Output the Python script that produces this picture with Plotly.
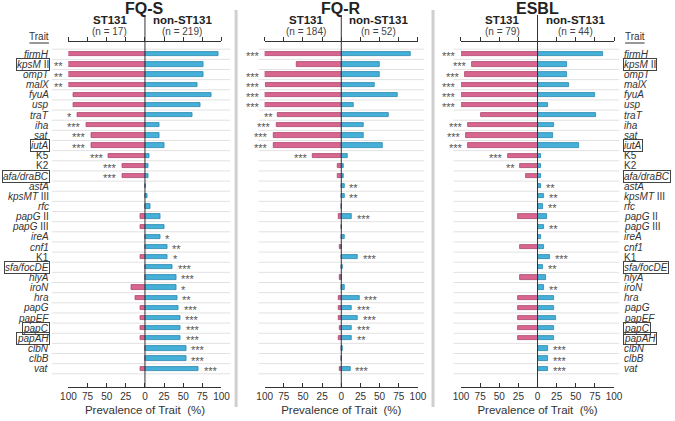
import plotly.graph_objects as go

# trait rows (top to bottom)
traits = [
    "<i>firmH</i>", "<i>kpsM</i> II", "<i>ompT</i>", "<i>malX</i>", "<i>fyuA</i>",
    "<i>usp</i>", "<i>traT</i>", "<i>iha</i>", "<i>sat</i>", "<i>iutA</i>",
    "K5", "K2", "<i>afa/draBC</i>", "<i>astA</i>", "<i>kpsMT</i> III", "<i>rfc</i>",
    "<i>papG</i> II", "<i>papG</i> III", "<i>ireA</i>", "<i>cnf1</i>", "K1",
    "<i>sfa/focDE</i>", "<i>hlyA</i>", "<i>iroN</i>", "<i>hra</i>", "<i>papG</i>",
    "<i>papEF</i>", "<i>papC</i>", "<i>papAH</i>", "<i>clbN</i>", "<i>clbB</i>",
    "<i>vat</i>",
]
boxed = ["<i>kpsM</i> II", "<i>iutA</i>", "<i>afa/draBC</i>", "<i>sfa/focDE</i>",
         "<i>papC</i>", "<i>papAH</i>"]

groups = ["FQ-S", "FQ-R", "ESBL"]
n_st131 = [17, 184, 79]
n_non = [219, 52, 44]

fqs_st131 = [100, 100, 100, 100, 94.1, 94.1, 88.2, 76.5, 70.6, 70.6, 47.1, 29.4, 29.4,
             0, 0, 0, 5.9, 5.9, 0, 0, 5.9, 0, 0, 17.6, 11.8, 5.9, 5.9, 5.9, 5.9, 0, 0, 5.9]
fqs_non = [96, 76, 76, 68, 87, 72, 62, 19, 19, 25, 6, 4, 4, 0.5, 3.5, 7.5, 20, 26, 20,
           29, 30, 36, 41, 41, 42, 44, 46, 47, 47, 54, 54, 70]
fqs_sig = ["", "**", "**", "**", "", "", "*", "***", "***", "***", "***", "***", "***",
           "", "", "", "", "", "*", "**", "*", "***", "***", "*", "**", "***", "***",
           "***", "***", "***", "***", "***"]

fqr_st131 = [100, 57.7, 100, 99, 100, 100, 82.5, 84.6, 88.5, 88.5, 37.2, 5, 4.3, 0, 0, 0,
             3, 0, 0, 1.5, 0, 0, 2.5, 0, 3.8, 3, 3, 2.5, 3.8, 0, 0, 2.5]
fqr_non = [90, 50, 50, 43, 73.5, 15.5, 62, 29, 29, 54, 8, 2.5, 2.5, 4, 4, 0, 14, 0, 4, 0,
           22, 2, 0, 4, 23.5, 14, 22, 14, 14, 2, 1, 12]
fqr_sig = ["***", "", "***", "***", "***", "***", "**", "***", "***", "***", "***", "",
           "", "**", "**", "", "***", "", "", "", "***", "", "", "", "***", "***", "***",
           "***", "**", "", "", "***"]

esbl_st131 = [100, 86, 95, 100, 100, 100, 74, 91, 93, 91, 38, 22.5, 15, 0, 0, 0, 25, 0, 0,
              22.5, 0, 0, 22.5, 0, 25, 25, 25, 25, 25, 0, 0, 0]
esbl_non = [86, 38.5, 38.5, 41, 75, 13.5, 77, 22, 20, 54, 4.5, 4.5, 4.5, 4.5, 9, 7, 13, 9,
            4.5, 9, 16, 7, 11.5, 9, 22, 22, 24.5, 22, 22, 13.5, 13.5, 13.5]
esbl_sig = ["***", "***", "***", "***", "***", "***", "", "***", "***", "***", "***", "**",
            "", "**", "**", "**", "", "**", "", "", "***", "**", "", "**", "", "", "", "",
            "", "***", "***", "***"]

tick_vals = [-100, -75, -50, -25, 0, 25, 50, 75, 100]
tick_text = ["100", "75", "50", "25", "0", "25", "50", "75", "100"]

PINK = "#d9668f"
PINK_LINE = "#a9456f"
BLUE = "#45b0d8"
BLUE_LINE = "#2a86ab"
FONT = "Liberation Sans, Arial, sans-serif"

W, H = 675, 421
TOP, BOTTOM = 42, 387
domains = [(62 / W, 219 / W), (263.3 / W, 420.5 / W), (464.7 / W, 621.7 / W)]
grid_spans = [(45, 228), (257, 427), (457, 627)]


def py(p):
    """pixel row -> paper y"""
    return (BOTTOM - p) / (BOTTOM - TOP)


def text_ann(x, y, text, size, color="#333", xref="paper", yref="paper", **kw):
    d = dict(x=x, y=y, xref=xref, yref=yref, text=text, showarrow=False,
             xanchor="center", yanchor="middle",
             font=dict(size=size, color=color, family=FONT))
    d.update(kw)
    return d


rows = list(range(len(traits)))
data = [(fqs_st131, fqs_non, fqs_sig), (fqr_st131, fqr_non, fqr_sig),
        (esbl_st131, esbl_non, esbl_sig)]

fig = go.Figure()
annotations = []
shapes = []

for k, (st, non, sig) in enumerate(data):
    xa = "x" if k == 0 else f"x{k + 1}"
    fig.add_trace(go.Bar(
        y=rows, x=[-v for v in st], orientation="h", xaxis=xa, yaxis="y",
        width=0.42, marker=dict(color=PINK, line=dict(color=PINK_LINE, width=0.8)),
        showlegend=False, hoverinfo="skip",
    ))
    fig.add_trace(go.Bar(
        y=rows, x=non, orientation="h", xaxis=xa, yaxis="y",
        width=0.42, marker=dict(color=BLUE, line=dict(color=BLUE_LINE, width=0.8)),
        showlegend=False, hoverinfo="skip",
    ))
    # invisible helper so the top tick axis gets drawn
    fig.add_trace(go.Scatter(
        x=tick_vals, y=[0] * len(tick_vals), xaxis=f"x{k + 4}", yaxis="y",
        mode="markers", marker=dict(opacity=0), showlegend=False, hoverinfo="skip",
    ))

    # significance stars on the side of the larger group
    for i, s in enumerate(sig):
        if not s:
            continue
        if st[i] >= non[i]:
            annotations.append(text_ann(-st[i], i, s, 11, "#555", xref=xa, yref="y",
                                        xanchor="right", xshift=-3, yshift=-2))
        else:
            annotations.append(text_ann(non[i], i, s, 11, "#555", xref=xa, yref="y",
                                        xanchor="left", xshift=3, yshift=-2))

    # headers
    annotations.append(text_ann(0, py(8), f"<b>{groups[k]}</b>", 16, "#222", xref=xa))
    annotations.append(text_ann(-46, py(20), "<b>ST131</b>", 11.5, "#222", xref=xa))
    annotations.append(text_ann(49, py(20), "<b>non-ST131</b>", 11.5, "#222", xref=xa))
    annotations.append(text_ann(-46, py(31.5), f"(n = {n_st131[k]})", 10, "#444", xref=xa))
    annotations.append(text_ann(49, py(31.5), f"(n = {n_non[k]})", 10, "#444", xref=xa))

    # row separators
    x0, x1 = grid_spans[k]
    for i in range(len(traits) + 1):
        shapes.append(dict(type="line", xref="paper", yref="y", x0=x0 / W, x1=x1 / W,
                           y0=i - 0.5, y1=i - 0.5, layer="below",
                           line=dict(color="#e2e2e2", width=1)))
    # centre line
    shapes.append(dict(type="line", xref=xa, yref="paper", x0=0, x1=0,
                       y0=0, y1=py(15), line=dict(color="#333", width=1)))

# trait labels (left of FQ-S and right of ESBL)
for i, t in enumerate(traits):
    box = t in boxed
    border = "#444" if box else "rgba(0,0,0,0)"
    annotations.append(text_ann(43 / W, i, t, 10, yref="y", xanchor="right",
                                bordercolor=border, borderwidth=1, borderpad=0))
    annotations.append(text_ann(631 / W, i, t, 10, yref="y", xanchor="left",
                                bordercolor=border, borderwidth=1, borderpad=0))

for xc in (31.5, 643):
    annotations.append(text_ann(xc / W, py(36), "Trait", 10))
shapes.append(dict(type="line", xref="paper", yref="paper", x0=22 / W, x1=42 / W,
                   y0=py(43), y1=py(43), line=dict(color="#333", width=1)))
shapes.append(dict(type="line", xref="paper", yref="paper", x0=633 / W, x1=653 / W,
                   y0=py(43), y1=py(43), line=dict(color="#333", width=1)))

# panel separators
for xs in (234, 436):
    shapes.append(dict(type="line", xref="paper", yref="paper", x0=xs / W, x1=xs / W,
                       y0=py(407), y1=py(10), line=dict(color="#cfcfcf", width=3)))

layout = dict(
    width=W, height=H, margin=dict(l=0, r=0, t=TOP, b=H - BOTTOM),
    plot_bgcolor="white", paper_bgcolor="white", barmode="overlay", bargap=0,
    font=dict(family=FONT, color="#333"),
    yaxis=dict(range=[32.8, -1.21], visible=False, fixedrange=True),
    annotations=annotations, shapes=shapes,
)
for k in range(3):
    name = "xaxis" if k == 0 else f"xaxis{k + 1}"
    layout[name] = dict(
        domain=list(domains[k]), anchor="y", range=[-100, 100],
        tickvals=tick_vals, ticktext=tick_text, ticks="inside", ticklen=4,
        tickcolor="#333", showline=True, linecolor="#333", linewidth=1,
        showgrid=False, zeroline=False, tickfont=dict(size=10, color="#333"),
        title=dict(text="Prevalence of Trait  (%)", standoff=4,
                   font=dict(size=11.5, color="#333")),
    )
    # top axis with ticks only
    layout[f"xaxis{k + 4}"] = dict(
        overlaying="x" if k == 0 else f"x{k + 1}", side="top", anchor="y",
        range=[-100, 100], tickvals=tick_vals, ticks="outside", ticklen=4,
        tickcolor="#333", showline=True, linecolor="#333", linewidth=1,
        showticklabels=False, showgrid=False, zeroline=False,
    )

fig.update_layout(**layout)
fig.write_html("out.html", config={"displayModeBar": False},
               post_script="document.body.style.margin='0';")
